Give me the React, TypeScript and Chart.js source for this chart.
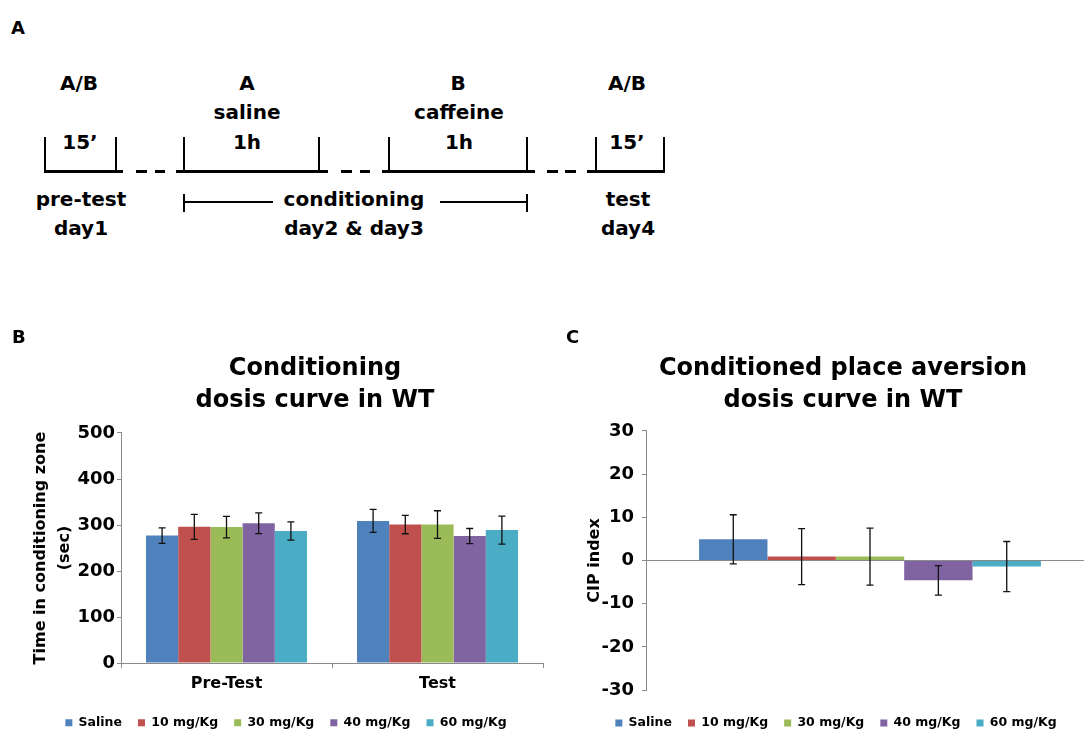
import React, { useEffect, useRef } from 'react';
import { Chart, registerables } from 'chart.js';

Chart.register(...registerables);

// ---------------- data ----------------
const doseLabels = ['Saline', '10 mg/Kg', '30 mg/Kg', '40 mg/Kg', '60 mg/Kg'];
const phaseLabels = ['Pre-Test', 'Test'];

// Panel B: time in conditioning zone (sec), [Pre-Test, Test]
const timeSaline = [277, 309];
const time10 = [296, 301];
const time30 = [295.5, 301];
const time40 = [304, 276];
const time60 = [287, 289];
const timeErrSaline = [17, 25];
const timeErr10 = [27, 20];
const timeErr30 = [23.5, 30];
const timeErr40 = [22.5, 16.5];
const timeErr60 = [20, 30.5];
const timeTickValues = [0, 100, 200, 300, 400, 500];

// Panel C: CIP index per dose
const cipValues = [4.9, 0.9, 0.9, -4.6, -1.4];
const cipErrors = [5.7, 6.5, 6.6, 3.4, 5.8];
const cipTickValues = [-30, -20, -10, 0, 10, 20, 30];

const doseColors = ['#4F81BD', '#C0504D', '#9BBB59', '#8064A2', '#4BACC6'];

// ---------------- styling ----------------
const FONT = '"DejaVu Sans", "Liberation Sans", sans-serif';
const AXIS_GRAY = '#8a8a8a';

const errorBarsPlugin = {
  id: 'errorBars',
  afterDatasetsDraw(chart: any, _args: any, opts: any) {
    const ctx = chart.ctx;
    const yScale = chart.scales.y;
    chart.data.datasets.forEach((ds: any, i: number) => {
      const meta = chart.getDatasetMeta(i);
      if (meta.hidden || !ds.errors) return;
      meta.data.forEach((bar: any, j: number) => {
        const v = ds.data[j];
        const e = ds.errors[j];
        const yTop = yScale.getPixelForValue(v + e);
        const yBot = yScale.getPixelForValue(v - e);
        const x = bar.x;
        const cap = opts.cap ?? 3.5;
        ctx.save();
        ctx.strokeStyle = opts.color ?? '#000';
        ctx.lineWidth = opts.width ?? 1.3;
        ctx.beginPath();
        ctx.moveTo(x, yTop);
        ctx.lineTo(x, yBot);
        ctx.moveTo(x - cap, yTop);
        ctx.lineTo(x + cap, yTop);
        ctx.moveTo(x - cap, yBot);
        ctx.lineTo(x + cap, yBot);
        ctx.stroke();
        ctx.restore();
      });
    });
  },
};

const titleShiftPlugin = {
  id: 'titleShift',
  afterLayout(chart: any, _args: any, opts: any) {
    const t = chart.titleBlock;
    if (t && opts && opts.dx) {
      t.left += opts.dx;
      t.right += opts.dx;
    }
  },
};

const titleFont = { family: FONT, size: 24, weight: 'bold' as const, lineHeight: 1.333 };
const legendOpts = (align: 'center' | 'start') => ({
  position: 'bottom' as const,
  align,
  labels: {
    boxWidth: 7,
    boxHeight: 7,
    padding: 16,
    color: '#000',
    font: { family: FONT, size: 12.5, weight: 'bold' as const },
  },
});

function makeTimeConfig(): any {
  const series = [timeSaline, time10, time30, time40, time60];
  const errs = [timeErrSaline, timeErr10, timeErr30, timeErr40, timeErr60];
  return {
    type: 'bar',
    data: {
      labels: phaseLabels,
      datasets: doseLabels.map((label, i) => ({
        label,
        data: series[i],
        errors: errs[i],
        backgroundColor: doseColors[i],
        borderWidth: 0,
        categoryPercentage: 0.763,
        barPercentage: 1,
      })),
    },
    plugins: [errorBarsPlugin, titleShiftPlugin],
    options: {
      responsive: false,
      animation: false,
      devicePixelRatio: 1,
      layout: { padding: { left: 29, right: 17, top: 0, bottom: 1 } },
      plugins: {
        title: {
          display: true,
          text: ['Conditioning', 'dosis curve in WT'],
          color: '#000',
          font: titleFont,
          padding: { top: 33, bottom: 16 },
        },
        titleShift: { dx: 29 },
        legend: legendOpts('center'),
        tooltip: { enabled: false },
        errorBars: { color: '#111', width: 1.3, cap: 3.5 },
      },
      scales: {
        x: {
          grid: { display: true, drawOnChartArea: false, tickLength: 5, color: AXIS_GRAY },
          border: { display: true, color: AXIS_GRAY, width: 1 },
          ticks: {
            color: '#000',
            padding: 5,
            font: { family: FONT, size: 16, weight: 'bold', lineHeight: 1.4 },
          },
        },
        y: {
          min: timeTickValues[0],
          max: timeTickValues[timeTickValues.length - 1],
          afterFit: (s: any) => { s.width = 92; },
          grid: { drawOnChartArea: false, tickLength: 4, color: AXIS_GRAY },
          border: { display: true, color: AXIS_GRAY, width: 1 },
          ticks: {
            stepSize: timeTickValues[1] - timeTickValues[0],
            color: '#000',
            padding: 2,
            font: { family: FONT, size: 18, weight: 'bold' },
          },
          title: {
            display: true,
            text: ['Time in conditioning zone', '(sec)'],
            color: '#000',
            padding: { top: 0, bottom: 0 },
            font: { family: FONT, size: 16, weight: 'bold', lineHeight: 1.5 },
          },
        },
      },
    },
  };
}

function makeCipConfig(): any {
  return {
    type: 'bar',
    data: {
      labels: [''],
      datasets: doseLabels.map((label, i) => ({
        label,
        data: [cipValues[i]],
        errors: [cipErrors[i]],
        backgroundColor: doseColors[i],
        borderWidth: 0,
        categoryPercentage: 0.763,
        barPercentage: 1,
      })),
    },
    plugins: [errorBarsPlugin, titleShiftPlugin],
    options: {
      responsive: false,
      animation: false,
      devicePixelRatio: 1,
      layout: { padding: { left: 18, right: 26, top: 0, bottom: 0.75 } },
      plugins: {
        title: {
          display: true,
          text: ['Conditioned place aversion', 'dosis curve in WT'],
          color: '#000',
          font: titleFont,
          padding: { top: 33, bottom: 14 },
        },
        titleShift: { dx: 7 },
        legend: legendOpts('center'),
        tooltip: { enabled: false },
        errorBars: { color: '#111', width: 1.3, cap: 3.5 },
      },
      scales: {
        x: {
          display: true,
          afterFit: (s: any) => { s.height = 10.75; },
          grid: { display: false },
          border: { display: false },
          ticks: { display: false },
        },
        y: {
          min: cipTickValues[0],
          max: cipTickValues[cipTickValues.length - 1],
          afterFit: (s: any) => { s.width = 68; },
          grid: {
            drawOnChartArea: true,
            tickLength: 4,
            color: (c: any) => (c.tick && c.tick.value === 0 ? AXIS_GRAY : 'rgba(0,0,0,0)'),
            tickColor: AXIS_GRAY,
          },
          border: { display: true, color: AXIS_GRAY, width: 1 },
          ticks: {
            stepSize: cipTickValues[1] - cipTickValues[0],
            color: '#000',
            padding: 8,
            font: { family: FONT, size: 18, weight: 'bold' },
          },
          title: {
            display: true,
            text: 'CIP index',
            color: '#000',
            padding: { top: 7.4, bottom: 0 },
            font: { family: FONT, size: 16, weight: 'bold', lineHeight: 1.2 },
          },
        },
      },
    },
  };
}

// ---------------- panel A helpers ----------------
type TxtProps = { cx?: number; left?: number; base: number; size?: number; children: React.ReactNode };
function Txt({ cx, left, base, size = 20, children }: TxtProps) {
  const style: React.CSSProperties = {
    position: 'absolute',
    top: base - 0.946 * size,
    fontSize: size,
    lineHeight: `${1.2 * size}px`,
    fontWeight: 'bold',
    fontFamily: FONT,
    color: '#000',
    whiteSpace: 'nowrap',
  };
  if (cx !== undefined) {
    style.left = cx - 150;
    style.width = 300;
    style.textAlign = 'center';
  } else {
    style.left = left;
  }
  return <div style={style}>{children}</div>;
}

const LW = 2.6;
function HLine({ x1, x2, y }: { x1: number; x2: number; y: number }) {
  return <div style={{ position: 'absolute', left: x1, top: y - LW / 2, width: x2 - x1, height: LW, background: '#000' }} />;
}
function VLine({ x, y1, y2 }: { x: number; y1: number; y2: number }) {
  return <div style={{ position: 'absolute', left: x - LW / 2, top: y1, width: LW, height: y2 - y1, background: '#000' }} />;
}

function PanelA() {
  const verticals = [45, 116, 184, 319, 389, 527, 596, 664];
  const bottoms: [number, number][] = [
    [44, 123], [136, 147], [155, 165], [176, 328], [341, 352], [360, 370],
    [382, 535], [547, 558], [565, 576], [587, 665.3],
  ];
  return (
    <>
      <Txt left={11} base={34} size={18}>A</Txt>
      <Txt cx={79} base={90}>A/B</Txt>
      <Txt cx={247} base={90}>A</Txt>
      <Txt cx={458} base={90}>B</Txt>
      <Txt cx={627} base={90}>A/B</Txt>
      <Txt cx={247} base={119}>saline</Txt>
      <Txt cx={459} base={119}>caffeine</Txt>
      <Txt cx={80} base={148.5}>15’</Txt>
      <Txt cx={247} base={148.5}>1h</Txt>
      <Txt cx={459} base={148.5}>1h</Txt>
      <Txt cx={627} base={148.5}>15’</Txt>
      {verticals.map((x) => <VLine key={'v' + x} x={x} y1={137} y2={172} />)}
      {bottoms.map(([a, b]) => <HLine key={'h' + a} x1={a} x2={b} y={171.5} />)}
      <Txt cx={81} base={206}>pre-test</Txt>
      <Txt cx={81} base={235}>day1</Txt>
      <Txt cx={354} base={206}>conditioning</Txt>
      <Txt cx={354} base={235}>day2 &amp; day3</Txt>
      <Txt cx={628} base={206}>test</Txt>
      <Txt cx={628} base={235}>day4</Txt>
      <HLine x1={183} x2={273} y={202} />
      <HLine x1={440} x2={528} y={202} />
      <VLine x={184} y1={194} y2={212} />
      <VLine x={527} y1={194} y2={212} />
    </>
  );
}

export default function App() {
  const bRef = useRef<HTMLCanvasElement>(null);
  const cRef = useRef<HTMLCanvasElement>(null);

  useEffect(() => {
    const b = new Chart(bRef.current as HTMLCanvasElement, makeTimeConfig());
    const c = new Chart(cRef.current as HTMLCanvasElement, makeCipConfig());
    return () => {
      b.destroy();
      c.destroy();
    };
  }, []);

  return (
    <div
      style={{
        position: 'absolute',
        left: 0,
        top: 0,
        width: 1084,
        height: 731,
        overflow: 'hidden',
        background: '#fff',
        fontFamily: FONT,
      }}
    >
      <PanelA />
      <canvas
        ref={bRef}
        width={560}
        height={420}
        style={{ position: 'absolute', left: 0, top: 320, width: 560, height: 420 }}
      />
      <canvas
        ref={cRef}
        width={560}
        height={420}
        style={{ position: 'absolute', left: 560, top: 320, width: 560, height: 420 }}
      />
      <Txt left={12} base={343} size={18}>B</Txt>
      <Txt left={566} base={343} size={18}>C</Txt>
    </div>
  );
}
